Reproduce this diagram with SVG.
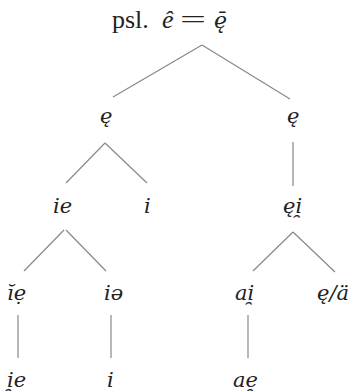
<svg xmlns="http://www.w3.org/2000/svg" width="357" height="391" viewBox="0 0 357 391">
<style>
.l{font-family:"DejaVu Serif","Liberation Serif",serif;font-style:italic;font-size:21px;fill:#222}
.t{font-family:"Liberation Serif","DejaVu Serif",serif;font-size:26px;fill:#222}
.ti{font-style:italic}
.td{font-family:"DejaVu Serif","Liberation Serif",serif;font-style:italic;font-size:22px}
#connectors line{stroke:#888;stroke-width:1.2;fill:none}
</style>
<rect width="357" height="391" fill="#fff"/>
<g id="root"><text class="t" x="112" y="28">psl. <tspan class="ti" x="162">ê</tspan><tspan x="180" textLength="26" lengthAdjust="spacingAndGlyphs">=</tspan><tspan class="td" x="214">ę̄</tspan></text></g>
<g id="connectors">
<line x1="202" y1="45" x2="113" y2="97"/>
<line x1="202" y1="45" x2="290" y2="99"/>
<line x1="105" y1="143" x2="66" y2="183"/>
<line x1="105" y1="143" x2="147" y2="183"/>
<line x1="293" y1="142" x2="293" y2="186"/>
<line x1="64" y1="230" x2="24" y2="271"/>
<line x1="66" y1="230" x2="106" y2="271"/>
<line x1="293" y1="232" x2="253" y2="271"/>
<line x1="293" y1="232" x2="335" y2="272"/>
<line x1="18" y1="315" x2="18" y2="358"/>
<line x1="111" y1="315" x2="111" y2="358"/>
<line x1="248" y1="315" x2="248" y2="358"/>
</g>
<g id="n-e-left"><text class="l" x="100" y="123">ę</text></g>
<g id="n-e-right"><text class="l" x="287" y="123">ę</text></g>
<g id="n-ie"><text class="l" x="53" y="213">ie</text></g>
<g id="n-i1"><text class="l" x="144" y="213">i</text></g>
<g id="n-ei"><text class="l" x="283" y="213">ęi̯</text></g>
<g id="n-ie2"><text class="l" x="7" y="300">ĭẹ</text></g>
<g id="n-ia"><text class="l" x="104" y="300">iə</text></g>
<g id="n-ai"><text class="l" x="235" y="300">ai̯</text></g>
<g id="n-ea"><text class="l" x="317" y="300">ę/ä</text></g>
<g id="n-ie3"><text class="l" x="7" y="387">i̯e</text></g>
<g id="n-i2"><text class="l" x="107" y="387">i</text></g>
<g id="n-ae"><text class="l" x="233" y="387">ae̯</text></g>
</svg>
